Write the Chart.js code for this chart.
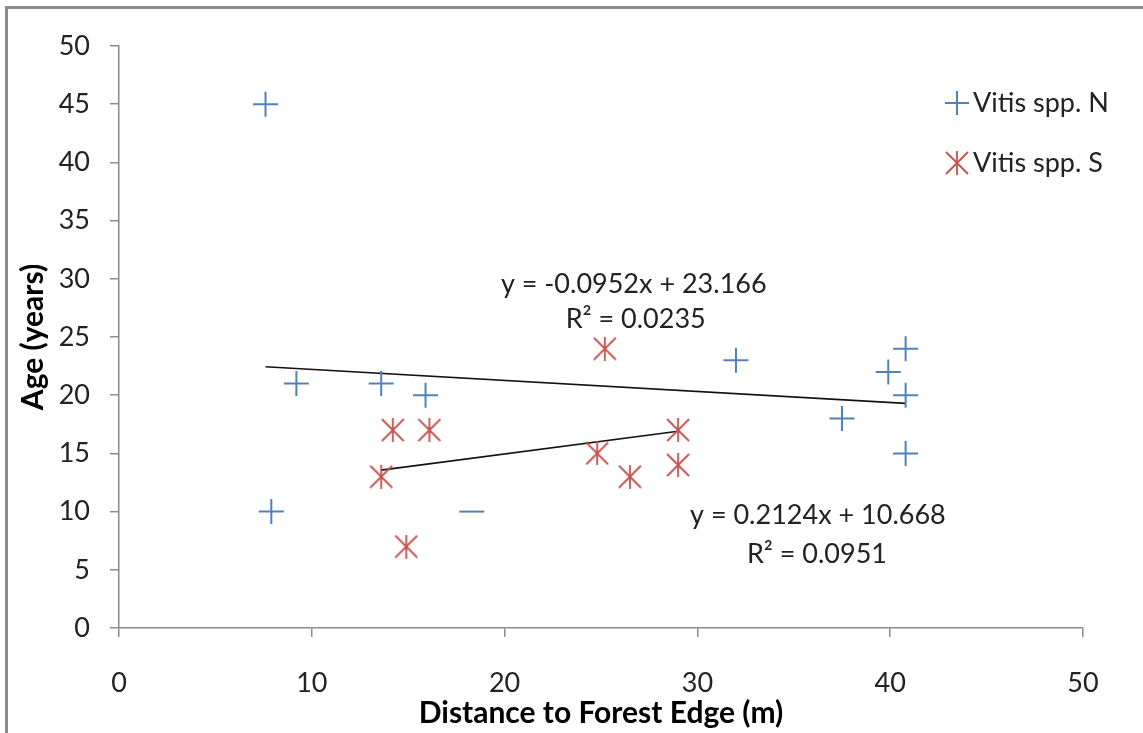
<!DOCTYPE html>
<html>
<head>
<meta charset="utf-8">
<script src="https://cdn.jsdelivr.net/npm/chart.js@4.4.1/dist/chart.umd.min.js"></script>
<style>
html, body { margin: 0; padding: 0; background: #fff; }
#wrap { position: relative; width: 1143px; height: 733px; overflow: hidden; }
#frame { position: absolute; left: 5px; top: 6px; width: 1200px; height: 800px;
         border-left: 3px solid #8c8c8c; border-top: 3px solid #8c8c8c; }
#chart { position: absolute; left: 0; top: 0; }
</style>
</head>
<body>
<div id="wrap">
  <div id="frame"></div>
  <canvas id="chart" width="1143" height="733"></canvas>
</div>
<script>
// Vitis spp. N (blue crosses)
const nDist = [7.6, 9.2, 13.6, 15.9, 7.9, 18.3, 32.0, 37.5, 39.9, 40.8, 40.8, 40.8];
const nAge  = [45, 21, 21, 20, 10, 10, 23, 18, 22, 24, 20, 15];
// Vitis spp. S (red stars)
const sDist = [14.2, 16.1, 13.6, 14.9, 25.2, 24.8, 26.5, 29.0, 29.0];
const sAge  = [17, 17, 13, 7, 24, 15, 13, 17, 14];
// linear trend line end points
const nTrendX = [7.6, 40.8];
const nTrendY = [22.44, 19.3];
const sTrendX = [13.6, 29.0];
const sTrendY = [13.56, 16.9];

const seriesNames = ['Vitis spp. N', 'Vitis spp. S'];
const nEquation = ['y = -0.0952x + 23.166', 'R\u00b2 = 0.0235'];
const sEquation = ['y = 0.2124x + 10.668', 'R\u00b2 = 0.0951'];

const xTitle = 'Distance to Forest Edge (m)';
const yTitle = 'Age (years)';

const blue = '#4f81bd';
const red = '#c9504d';
const axisGray = '#8c8c8c';
const textColor = '#222';

function toPoints(xs, ys) {
    return xs.map((x, i) => ({ x: x, y: ys[i] }));
}

// excel style star marker: an X with a vertical bar through it
function makeStar(color, size) {
    let c = document.createElement('canvas');
    c.width = size;
    c.height = size;
    let g = c.getContext('2d');
    g.strokeStyle = color;
    g.lineWidth = 1.8;
    g.beginPath();
    g.moveTo(1, 1); g.lineTo(size - 1, size - 1);
    g.moveTo(size - 1, 1); g.lineTo(1, size - 1);
    g.moveTo(size / 2, 0); g.lineTo(size / 2, size);
    g.stroke();
    return c;
}
const starImg = makeStar(red, 24);

// the point at 18.3 only shows its horizontal bar in the original
const dashIndex = 5;

const overlay = {
    id: 'overlay',
    afterDraw(chart) {
        const ctx = chart.ctx;
        const xs = chart.scales.x;
        const ys = chart.scales.y;
        ctx.save();
        ctx.font = '27px Lato';
        ctx.fillStyle = textColor;
        ctx.textAlign = 'center';
        ctx.textBaseline = 'middle';
        // trend line equations
        ctx.fillText(nEquation[0], xs.getPixelForValue(26.7), ys.getPixelForValue(29.5));
        ctx.fillText(nEquation[1], xs.getPixelForValue(26.8), ys.getPixelForValue(26.5));
        ctx.fillText(sEquation[0], xs.getPixelForValue(36.25), ys.getPixelForValue(9.7));
        ctx.fillText(sEquation[1], xs.getPixelForValue(36.2), ys.getPixelForValue(6.3));

        // legend
        const lx = 957;
        const rows = [103, 163];
        ctx.strokeStyle = blue;
        ctx.lineWidth = 2;
        ctx.beginPath();
        ctx.moveTo(lx - 12, rows[0]); ctx.lineTo(lx + 12, rows[0]);
        ctx.moveTo(lx, rows[0] - 12); ctx.lineTo(lx, rows[0] + 12);
        ctx.stroke();
        ctx.drawImage(starImg, lx - 12, rows[1] - 12);
        ctx.textAlign = 'left';
        ctx.fillText(seriesNames[0], lx + 16, rows[0]);
        ctx.fillText(seriesNames[1], lx + 16, rows[1]);
        ctx.restore();
    }
};

const ctx = document.getElementById('chart');
const chart = new Chart(ctx, {
    type: 'scatter',
    data: {
        datasets: [
            {
                label: seriesNames[0],
                data: toPoints(nDist, nAge),
                pointStyle: (c) => c.dataIndex === dashIndex ? 'line' : 'cross',
                pointRadius: 12.5,
                pointHoverRadius: 12.5,
                borderColor: blue,
                backgroundColor: blue,
                borderWidth: 2,
                showLine: false
            },
            {
                label: seriesNames[1],
                data: toPoints(sDist, sAge),
                pointStyle: starImg,
                pointRadius: 12,
                borderColor: red,
                backgroundColor: red,
                showLine: false
            },
            {
                label: 'trend N',
                data: toPoints(nTrendX, nTrendY),
                showLine: true,
                borderColor: '#111',
                borderWidth: 1.6,
                pointRadius: 0,
                fill: false
            },
            {
                label: 'trend S',
                data: toPoints(sTrendX, sTrendY),
                showLine: true,
                borderColor: '#111',
                borderWidth: 1.6,
                pointRadius: 0,
                fill: false
            }
        ]
    },
    options: {
        responsive: false,
        animation: false,
        devicePixelRatio: 1,
        layout: { padding: { left: 0, right: 60, top: 46, bottom: 0 } },
        plugins: {
            legend: { display: false },
            tooltip: { enabled: false }
        },
        scales: {
            x: {
                type: 'linear',
                min: 0,
                max: 50,
                ticks: { stepSize: 10, font: { family: 'Lato', size: 27 }, color: textColor, padding: 30 },
                grid: { drawOnChartArea: false, drawTicks: true, tickLength: 9, color: axisGray, lineWidth: 1.5 },
                border: { color: axisGray, width: 1.5 },
                title: { display: true, text: xTitle, color: '#000',
                         font: { family: 'Lato', size: 30, weight: 'bold' }, padding: { top: 0, bottom: 2 } },
                afterFit: (s) => { s.height = 105; }
            },
            y: {
                type: 'linear',
                min: 0,
                max: 50,
                ticks: { stepSize: 5, font: { family: 'Lato', size: 27 }, color: textColor, padding: 20 },
                grid: { drawOnChartArea: false, drawTicks: true, tickLength: 9, color: axisGray, lineWidth: 1.5 },
                border: { color: axisGray, width: 1.5 },
                title: { display: true, text: yTitle, color: '#000',
                         font: { family: 'Lato', size: 30, weight: 'bold' }, padding: { top: 15, bottom: 0 } },
                afterFit: (s) => { s.width = 119; }
            }
        }
    },
    plugins: [overlay]
});
</script>
</body>
</html>
